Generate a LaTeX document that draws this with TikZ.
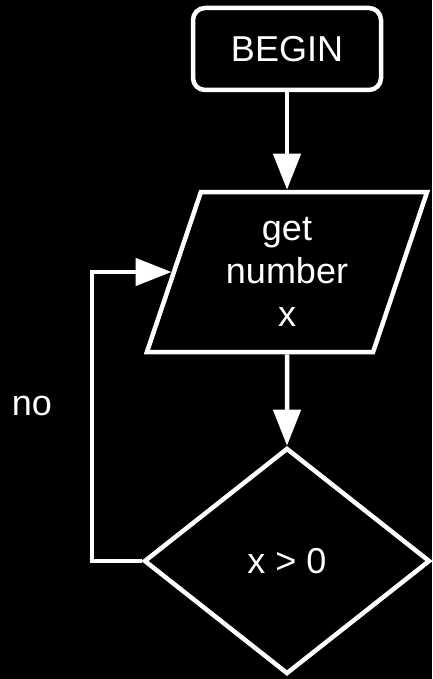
\documentclass[tikz,border=0pt]{standalone}
\usepackage{fontspec}
\setmainfont{Liberation Sans}
\usetikzlibrary{shapes.geometric,arrows.meta}
\begin{document}
\begin{tikzpicture}[x=1pt,y=-1pt,
  every node/.style={text=white, font=\fontsize{36}{43}\selectfont},
  shp/.style={draw=white, line width=4.5pt, fill=black, inner sep=0pt},
  arr/.style={draw=white, line width=4.5pt, -{Triangle[length=36pt,width=27pt]}}
]
\fill[black] (0,0) rectangle (432,679);
\useasboundingbox (0,0) rectangle (432,679);
\node[shp, rectangle, rounded corners=12pt, minimum width=188pt, minimum height=82pt] (begin) at (287,49) {BEGIN};
\node[shp, trapezium, trapezium left angle=70.7, trapezium right angle=109.3,
      trapezium stretches=true, minimum width=281pt, minimum height=160pt, align=center] (pg) at (287,272) {get\\number\\x};
\node[shp, diamond, minimum width=286pt, minimum height=226pt] (d) at (287,561) {x > 0};
\node (no) at (32,406) {no};
\draw[arr] (begin) -- (pg);
\draw[arr] (pg) -- (d);
\draw[arr] (d.west) -- ++(-50,0) |- (pg);
\end{tikzpicture}
\end{document}
